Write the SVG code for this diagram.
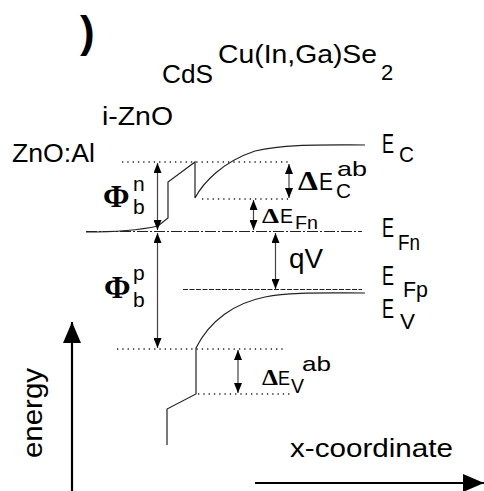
<svg xmlns="http://www.w3.org/2000/svg" width="484" height="491" viewBox="0 0 484 491">
<style>
text{font-family:"Liberation Sans",Arial,sans-serif;fill:#000}
.sym{font-family:"Liberation Serif","Times New Roman",serif;font-weight:bold}
.band{fill:none;stroke:#222;stroke-width:1.2}
.dot{fill:none;stroke:#222;stroke-width:1.3;stroke-dasharray:1.3 4}
.dd{fill:none;stroke:#222;stroke-width:1.1;stroke-dasharray:11 2 2 2}
.dash{fill:none;stroke:#222;stroke-width:1.1;stroke-dasharray:5 1.5}
.dbl{stroke:#444;stroke-width:1.2;marker-start:url(#ah);marker-end:url(#ah)}
.axis{stroke:#000;stroke-width:2.2;marker-end:url(#big)}
</style>
<defs>
<marker id="ah" markerUnits="userSpaceOnUse" markerWidth="10" markerHeight="8" refX="10" refY="4" orient="auto-start-reverse"><path d="M0,0 L10,4 L0,8 z" fill="#000"/></marker>
<marker id="big" markerUnits="userSpaceOnUse" markerWidth="22" markerHeight="18" refX="21" refY="9" orient="auto"><path d="M0,0 L21,9 L0,18 z" fill="#000"/></marker>
</defs>
<rect width="484" height="491" fill="#fff"/>

<g id="layer-labels">
<text x="80" y="47" font-size="44" font-weight="bold">)</text>
<text x="218" y="63" font-size="26" textLength="159" lengthAdjust="spacingAndGlyphs">Cu(In,Ga)Se</text>
<text x="381" y="80" font-size="22">2</text>
<text x="162" y="83" font-size="26" textLength="51" lengthAdjust="spacingAndGlyphs">CdS</text>
<text x="102" y="125" font-size="26" textLength="71" lengthAdjust="spacingAndGlyphs">i-ZnO</text>
<text x="12" y="162" font-size="26" textLength="83" lengthAdjust="spacingAndGlyphs">ZnO:Al</text>
</g>

<g id="bands">
<path class="band" d="M86,232 C115,232 140,230 158,226 L168,218 L168,182 L195,162 L195,198 C203,183 222,162 255,151 C285,144 320,145 365,145"/>
<path class="band" d="M365,293 C320,293 290,292 265,297 C235,303 210,320 196,348 L196,394 L167,409 L167,445"/>
<path class="dd" d="M86,231.5 H362"/>
<path class="dash" d="M183,289.5 H362"/>
<path class="dot" d="M122,162 H288"/>
<path class="dot" d="M202,199 H288"/>
<path class="dot" d="M117,349 H285"/>
<path class="dot" d="M198,394 H290"/>
</g>

<g id="connectors">
<line class="dbl" x1="157.5" y1="163" x2="157.5" y2="230"/>
<line class="dbl" x1="157.5" y1="233" x2="157.5" y2="348"/>
<line class="dbl" x1="289" y1="164" x2="289" y2="198"/>
<line class="dbl" x1="253.5" y1="200" x2="253.5" y2="230"/>
<line class="dbl" x1="275.5" y1="233" x2="275.5" y2="289"/>
<line class="dbl" x1="238" y1="350" x2="238" y2="393"/>
<line class="axis" x1="72" y1="491" x2="72" y2="322"/>
<line class="axis" x1="255" y1="483" x2="484" y2="483"/>
</g>

<g id="label-phin">
<text class="sym" x="103" y="207" font-size="32">Φ</text>
<text x="133" y="191" font-size="21">n</text>
<text x="133" y="214" font-size="21">b</text>
</g>
<g id="label-phip">
<text class="sym" x="104" y="298" font-size="32">Φ</text>
<text x="133" y="280" font-size="21">p</text>
<text x="133" y="307" font-size="21">b</text>
</g>
<g id="label-dec">
<text class="sym" x="298" y="190" font-size="27" textLength="20" lengthAdjust="spacingAndGlyphs">Δ</text>
<text x="319" y="190" font-size="24" textLength="14" lengthAdjust="spacingAndGlyphs">E</text>
<text x="336" y="198" font-size="21" textLength="15" lengthAdjust="spacingAndGlyphs">C</text>
<text x="337" y="176" font-size="21" textLength="30" lengthAdjust="spacingAndGlyphs">ab</text>
</g>
<g id="label-defn">
<text class="sym" x="262" y="223" font-size="22" textLength="17" lengthAdjust="spacingAndGlyphs">Δ</text>
<text x="280" y="223" font-size="20" textLength="13" lengthAdjust="spacingAndGlyphs">E</text>
<text x="295" y="229" font-size="18" textLength="23" lengthAdjust="spacingAndGlyphs">Fn</text>
</g>
<g id="label-qv">
<text x="289" y="268" font-size="27" textLength="34" lengthAdjust="spacingAndGlyphs">qV</text>
</g>
<g id="label-dev">
<text class="sym" x="262" y="385" font-size="23" textLength="16" lengthAdjust="spacingAndGlyphs">Δ</text>
<text x="278" y="385" font-size="21" textLength="12" lengthAdjust="spacingAndGlyphs">E</text>
<text x="291" y="393" font-size="20" textLength="13" lengthAdjust="spacingAndGlyphs">V</text>
<text x="302" y="371" font-size="21" textLength="29" lengthAdjust="spacingAndGlyphs">ab</text>
</g>
<g id="label-ec">
<text x="382" y="153" font-size="28" textLength="12" lengthAdjust="spacingAndGlyphs">E</text>
<text x="399" y="162" font-size="22" textLength="15" lengthAdjust="spacingAndGlyphs">C</text>
</g>
<g id="label-efn">
<text x="382" y="237" font-size="28" textLength="12" lengthAdjust="spacingAndGlyphs">E</text>
<text x="398" y="250" font-size="22" textLength="22" lengthAdjust="spacingAndGlyphs">Fn</text>
</g>
<g id="label-efp">
<text x="382" y="285" font-size="28" textLength="12" lengthAdjust="spacingAndGlyphs">E</text>
<text x="403" y="297" font-size="22" textLength="25" lengthAdjust="spacingAndGlyphs">Fp</text>
</g>
<g id="label-ev">
<text x="382" y="318" font-size="28" textLength="12" lengthAdjust="spacingAndGlyphs">E</text>
<text x="400" y="329" font-size="22" textLength="15" lengthAdjust="spacingAndGlyphs">V</text>
</g>
<g id="label-axes">
<text x="290" y="457" font-size="25" textLength="163" lengthAdjust="spacingAndGlyphs">x-coordinate</text>
<text transform="translate(42,458) rotate(-90)" x="0" y="0" font-size="27" textLength="90" lengthAdjust="spacingAndGlyphs">energy</text>
</g>
</svg>
